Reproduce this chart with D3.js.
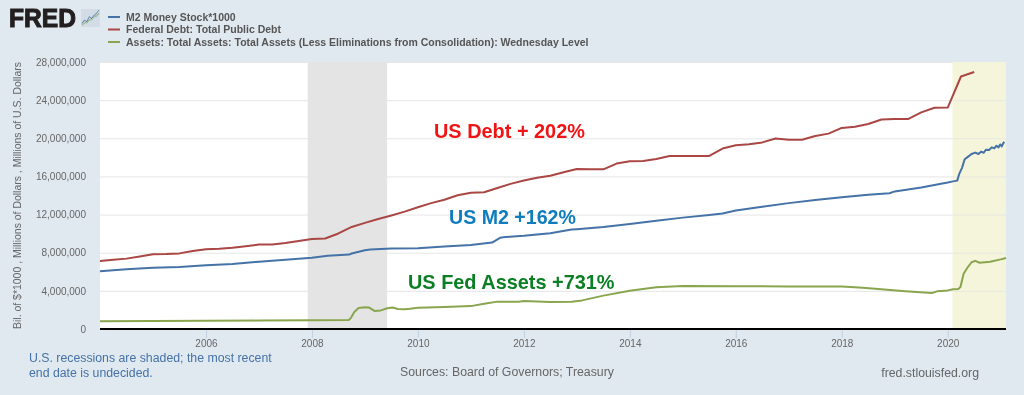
<!DOCTYPE html>
<html>
<head>
<meta charset="utf-8">
<script src="https://cdn.jsdelivr.net/npm/d3@7"></script>
<style>
  html, body { margin: 0; padding: 0; background: #e1e9f0; }
  svg { display: block; filter: blur(0.35px); }
  text { font-family: "Liberation Sans", Arial, sans-serif; }
</style>
</head>
<body>
<svg id="chart"></svg>
<script>
// values in millions of $ (x = decimal year)
const debtYears = [2004, 2004.25, 2004.5, 2004.75, 2005, 2005.25, 2005.5, 2005.75, 2006, 2006.25, 2006.5, 2006.75, 2007, 2007.25, 2007.5, 2007.75,
  2008, 2008.25, 2008.5, 2008.75, 2009, 2009.25, 2009.5, 2009.75, 2010, 2010.25, 2010.5, 2010.75, 2011, 2011.25, 2011.5, 2011.75,
  2012, 2012.25, 2012.5, 2012.75, 2013, 2013.25, 2013.5, 2013.75, 2014, 2014.25, 2014.5, 2014.75, 2015, 2015.25, 2015.5, 2015.75,
  2016, 2016.25, 2016.5, 2016.75, 2017, 2017.25, 2017.5, 2017.75, 2018, 2018.25, 2018.5, 2018.75, 2019, 2019.25, 2019.5, 2019.75,
  2020, 2020.25, 2020.5];
const debtValues = [7130000, 7270000, 7380000, 7600000, 7840000, 7860000, 7930000, 8170000, 8370000, 8420000, 8510000, 8680000, 8850000, 8870000, 9010000, 9230000,
  9440000, 9490000, 10020000, 10700000, 11130000, 11540000, 11910000, 12310000, 12770000, 13200000, 13560000, 14030000, 14290000, 14340000, 14790000, 15220000,
  15580000, 15860000, 16070000, 16430000, 16770000, 16740000, 16740000, 17350000, 17600000, 17630000, 17820000, 18140000, 18150000, 18150000, 18150000, 18920000,
  19260000, 19380000, 19570000, 19980000, 19850000, 19850000, 20240000, 20490000, 21090000, 21200000, 21500000, 21970000, 22030000, 22020000, 22720000, 23200000,
  23220000, 26480000, 26950000];

const m2Years = [2004, 2004.5, 2005, 2005.5, 2006, 2006.5, 2007, 2007.5, 2008, 2008.3, 2008.7, 2008.75, 2009, 2009.1, 2009.5, 2010, 2010.5, 2011, 2011.4, 2011.55, 2011.65, 2012, 2012.5, 2012.9, 2013, 2013.5, 2014, 2014.5, 2015, 2015.5, 2015.75, 2016, 2016.5, 2017, 2017.5, 2018, 2018.5, 2018.9, 2019, 2019.5, 2020, 2020.1, 2020.18, 2020.22, 2020.27, 2020.32, 2020.38, 2020.45, 2020.52, 2020.58, 2020.63, 2020.68, 2020.72, 2020.78, 2020.83, 2020.88, 2020.92, 2020.96, 2020.99, 2021.02, 2021.05, 2021.07];
const m2Values = [6060000, 6260000, 6420000, 6510000, 6680000, 6820000, 7050000, 7260000, 7480000, 7680000, 7800000, 7920000, 8260000, 8340000, 8440000, 8480000, 8640000, 8800000, 9060000, 9560000, 9640000, 9770000, 10050000, 10430000, 10470000, 10700000, 11020000, 11350000, 11680000, 11960000, 12110000, 12430000, 12820000, 13200000, 13520000, 13820000, 14080000, 14240000, 14430000, 14830000, 15360000, 15480000, 15560000, 16300000, 16900000, 17800000, 18050000, 18350000, 18500000, 18350000, 18600000, 18480000, 18800000, 18780000, 19050000, 18950000, 19220000, 19050000, 19350000, 19150000, 19500000, 19620000];

const assetsYears = [2004, 2005, 2006, 2007, 2008, 2008.7, 2008.74, 2008.8, 2008.88, 2009, 2009.08, 2009.18, 2009.3, 2009.42, 2009.52, 2009.62, 2009.75, 2009.85, 2010, 2010.5, 2011, 2011.25, 2011.5, 2011.9, 2012, 2012.5, 2012.9, 2013.1, 2013.5, 2014, 2014.5, 2015, 2016, 2017, 2018, 2018.4, 2018.8, 2019.2, 2019.7, 2019.8, 2020, 2020.1, 2020.2, 2020.24, 2020.3, 2020.38, 2020.45, 2020.52, 2020.6, 2020.8, 2021, 2021.1];
const assetsValues = [800000, 830000, 860000, 880000, 920000, 950000, 1200000, 1780000, 2200000, 2270000, 2250000, 1900000, 1950000, 2180000, 2250000, 2090000, 2080000, 2130000, 2230000, 2320000, 2400000, 2650000, 2870000, 2860000, 2930000, 2830000, 2870000, 3000000, 3500000, 4000000, 4380000, 4500000, 4480000, 4470000, 4450000, 4320000, 4130000, 3950000, 3780000, 3950000, 4050000, 4170000, 4200000, 4400000, 5800000, 6500000, 7000000, 7150000, 6950000, 7050000, 7300000, 7450000];

const yTicks = [0, 4000000, 8000000, 12000000, 16000000, 20000000, 24000000, 28000000];
const xTicks = [2006, 2008, 2010, 2012, 2014, 2016, 2018, 2020];
const shadedBands = [[2007.92, 2009.42, "#e4e4e4"], [2020.09, 2021.1, "#f5f5dc"]];
const legendLabels = ["M2 Money Stock*1000", "Federal Debt: Total Public Debt", "Assets: Total Assets: Total Assets (Less Eliminations from Consolidation): Wednesday Level"];
const seriesColors = ["#4572a7", "#aa4643", "#89a54e"];
const logoLineA = [0, 1, 2, 3, 4, 5, 6, 7];
const logoLineB = [1, 3, 2, 5, 4, 6, 7, 9];
const logoLineC = [0, 2, 1, 3, 3, 5, 5, 7];

const width = 1024, height = 395;
const margin = { top: 62, right: 18, bottom: 66, left: 100 };

const svg = d3.select("#chart").attr("width", width).attr("height", height);

let x = d3.scaleLinear().domain([2004, 2021.1]).range([margin.left, width - margin.right]);
let y = d3.scaleLinear().domain([0, 28000000]).range([height - margin.bottom, margin.top]);

// plot background
svg.append("rect")
    .attr("x", margin.left).attr("y", margin.top)
    .attr("width", width - margin.left - margin.right)
    .attr("height", height - margin.top - margin.bottom)
    .attr("fill", "#fff");

// gridlines
svg.append("g").selectAll("line")
    .data(yTicks.slice(1))
    .enter().append("line")
    .attr("x1", margin.left).attr("x2", width - margin.right)
    .attr("y1", d => y(d) + 0.5).attr("y2", d => y(d) + 0.5)
    .attr("stroke", "#e6e6e6");

// recession bands
svg.append("g").selectAll("rect")
    .data(shadedBands)
    .enter().append("rect")
    .attr("x", d => x(d[0])).attr("y", margin.top)
    .attr("width", d => x(d[1]) - x(d[0]))
    .attr("height", height - margin.top - margin.bottom)
    .attr("fill", d => d[2]);

// grid shows faintly over the yellow band in the original
svg.append("g").selectAll("line")
    .data(yTicks.slice(1, -1))
    .enter().append("line")
    .attr("x1", x(shadedBands[1][0])).attr("x2", width - margin.right)
    .attr("y1", d => y(d) + 0.5).attr("y2", d => y(d) + 0.5)
    .attr("stroke", "#e8e8e0");

// axes
let yAxis = d3.axisLeft(y).tickValues(yTicks).tickFormat(d3.format(",")).tickSize(0).tickPadding(0);
let yG = svg.append("g").attr("transform", "translate(86,0)").call(yAxis);
yG.select(".domain").remove();
yG.selectAll("text").attr("font-size", 10).attr("fill", "#666").attr("font-family", "Liberation Sans");

let xAxis = d3.axisBottom(x).tickValues(xTicks).tickFormat(d3.format("d")).tickSize(9).tickPadding(2);
let xG = svg.append("g").attr("transform", "translate(0," + (height - margin.bottom) + ")").call(xAxis);
xG.select(".domain").remove();
xG.selectAll("line").attr("stroke", "#c0d0e0");
xG.selectAll("text").attr("font-size", 10).attr("fill", "#666").attr("font-family", "Liberation Sans");

svg.append("line")
    .attr("x1", margin.left).attr("x2", width - margin.right)
    .attr("y1", height - margin.bottom).attr("y2", height - margin.bottom)
    .attr("stroke", "#000").attr("stroke-width", 2);

// series
let line = d3.line().x(d => x(d[0])).y(d => y(d[1]));
[[m2Years, m2Values], [debtYears, debtValues], [assetsYears, assetsValues]].forEach(function(s, i) {
    svg.append("path")
        .datum(d3.zip(s[0], s[1]))
        .attr("fill", "none")
        .attr("stroke", seriesColors[i])
        .attr("stroke-width", 2)
        .attr("stroke-linejoin", "round")
        .attr("d", line);
});

// y axis title
svg.append("text")
    .attr("transform", "translate(21,329) rotate(-90)")
    .attr("font-size", 10.5).attr("fill", "#666")
    .attr("textLength", 267)
    .text("Bil. of $*1000 , Millions of Dollars , Millions of U.S. Dollars");

// legend
legendLabels.forEach(function(label, i) {
    let ly = 17 + i * 12.5;
    svg.append("line")
        .attr("x1", 108).attr("x2", 120).attr("y1", ly).attr("y2", ly)
        .attr("stroke", seriesColors[i]).attr("stroke-width", 2);
    svg.append("text")
        .attr("x", 126).attr("y", ly + 3.5)
        .attr("font-size", 10.5).attr("font-weight", "bold").attr("fill", "#555")
        .text(label);
});

// logo
svg.append("text")
    .attr("x", 9).attr("y", 27)
    .attr("font-size", 25).attr("font-weight", "bold")
    .attr("fill", "#231f20").attr("stroke", "#231f20").attr("stroke-width", 1)
    .attr("textLength", 67).attr("lengthAdjust", "spacingAndGlyphs")
    .text("FRED");
svg.append("rect")
    .attr("x", 81).attr("y", 9).attr("width", 19).attr("height", 18)
    .attr("fill", "#d3dce6");
let logoX = d3.scaleLinear().domain([0, 7]).range([82, 99]);
let logoY = d3.scaleLinear().domain([0, 9]).range([25, 10]);
let logoLine = d3.line().x((d, i) => logoX(i)).y(d => logoY(d));
[[logoLineA, "#89a54e"], [logoLineB, "#4572a7"], [logoLineC, "#8fb5a0"]].forEach(function(l) {
    svg.append("path")
        .attr("d", logoLine(l[0]))
        .attr("fill", "none").attr("stroke", l[1]).attr("stroke-width", 0.8);
});

// annotations pasted on the chart
svg.append("text").attr("x", 434).attr("y", 138)
    .attr("font-size", 19.9).attr("font-weight", "bold").attr("fill", "#f01414")
    .text("US Debt + 202%");
svg.append("text").attr("x", 449).attr("y", 224)
    .attr("font-size", 19.6).attr("font-weight", "bold").attr("fill", "#0f7dbd")
    .text("US M2 +162%");
svg.append("text").attr("x", 408).attr("y", 289)
    .attr("font-size", 19.9).attr("font-weight", "bold").attr("fill", "#0b7f24")
    .text("US Fed Assets +731%");

// footer
svg.append("text").attr("x", 29).attr("y", 362)
    .attr("font-size", 12.3).attr("fill", "#4572a7")
    .text("U.S. recessions are shaded; the most recent");
svg.append("text").attr("x", 29).attr("y", 377)
    .attr("font-size", 12.3).attr("fill", "#4572a7")
    .text("end date is undecided.");
svg.append("text").attr("x", 400).attr("y", 376)
    .attr("font-size", 12.3).attr("fill", "#666")
    .text("Sources: Board of Governors; Treasury");
svg.append("text").attr("x", 979).attr("y", 377)
    .attr("font-size", 12.3).attr("fill", "#666").attr("text-anchor", "end")
    .text("fred.stlouisfed.org");
</script>
</body>
</html>
